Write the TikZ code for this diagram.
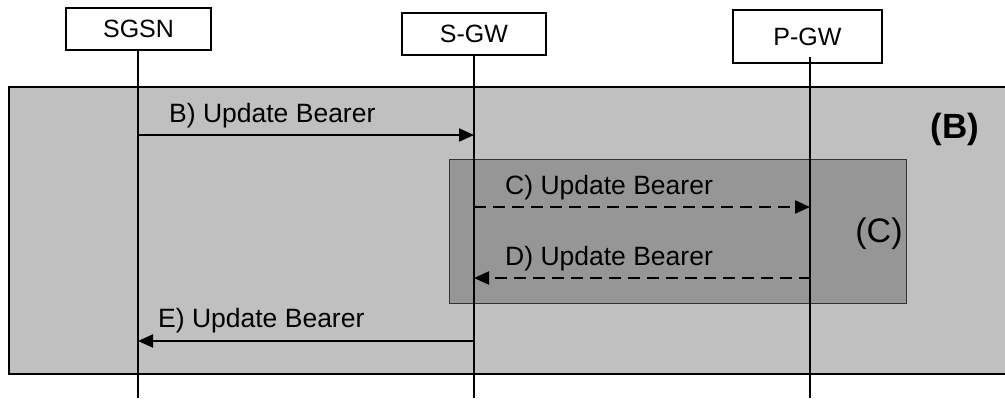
\documentclass[tikz,border=0pt]{standalone}
\usepackage{fontspec}
\setmainfont{Liberation Sans}
\usetikzlibrary{arrows.meta}
\definecolor{outerfill}{RGB}{192,192,192}
\definecolor{innerfill}{RGB}{150,150,150}
\begin{document}
\begin{tikzpicture}[x=1pt,y=-1pt,
  entity/.style={draw=black,line width=1.2pt,fill=white,inner sep=0pt,font=\fontsize{25}{30}\selectfont},
  lifeline/.style={line width=1.5pt},
  msg/.style={line width=2pt,-{Triangle[length=15pt,width=13pt]}},
  msgd/.style={msg,dash pattern=on 12pt off 7pt},
  msglabel/.style={anchor=base west,inner sep=0pt,font=\fontsize{26.5}{30}\selectfont},
  outerbox/.style={fill=outerfill,draw=black,line width=1.5pt},
  innerbox/.style={fill=innerfill,draw=black!80,line width=1pt},
]
\clip (0,0) rectangle (1005,400);
\fill[white] (0,0) rectangle (1005,400);

% regions
\draw[outerbox] (9,87) rectangle (1015,374);
\draw[innerbox] (449,159) rectangle (906,303);
\node[font=\bfseries\fontsize{35}{40}\selectfont,inner sep=0pt] (regB) at (955,129) {(B)};
\node[font=\fontsize{34}{40}\selectfont,inner sep=0pt] (regC) at (879,233.5) {(C)};

% entities
\node[entity,minimum width=145pt,minimum height=42pt] (sgsn) at (138.5,29) {SGSN};
\node[entity,minimum width=144pt,minimum height=42pt] (sgw) at (474,34) {S-GW};
\node[entity,minimum width=149pt,minimum height=53pt] (pgw) at (807.5,36.5) {P-GW};

% lifeline ends
\coordinate (sgsnT) at (138,50);
\coordinate (sgwT) at (474,55);
\coordinate (pgwT) at (810,57);
\coordinate (sgsnE) at (138,398);
\coordinate (sgwE) at (474,398);
\coordinate (pgwE) at (810,398);
\draw[lifeline] (sgsnT) -- (sgsnE);
\draw[lifeline] (sgwT) -- (sgwE);
\draw[lifeline] (pgwT) -- (pgwE);

% message anchor points on lifelines
\coordinate (b0) at (138,135);  \coordinate (b1) at (474,135);
\coordinate (c0) at (474,207);  \coordinate (c1) at (810,207);
\coordinate (d0) at (811,278);  \coordinate (d1) at (474,278);
\coordinate (e0) at (474,341);  \coordinate (e1) at (138,341);

\draw[msg] (b0) -- (b1);
\draw[msgd] (c0) -- (c1);
\draw[msgd] (d0) -- (d1);
\draw[msg] (e0) -- (e1);

\node[msglabel] (lb) at (169,122) {B) Update Bearer};
\node[msglabel] (lc) at (505,194) {C) Update Bearer};
\node[msglabel] (ld) at (505,265) {D) Update Bearer};
\node[msglabel] (le) at (158,327) {E) Update Bearer};
\end{tikzpicture}
\end{document}
